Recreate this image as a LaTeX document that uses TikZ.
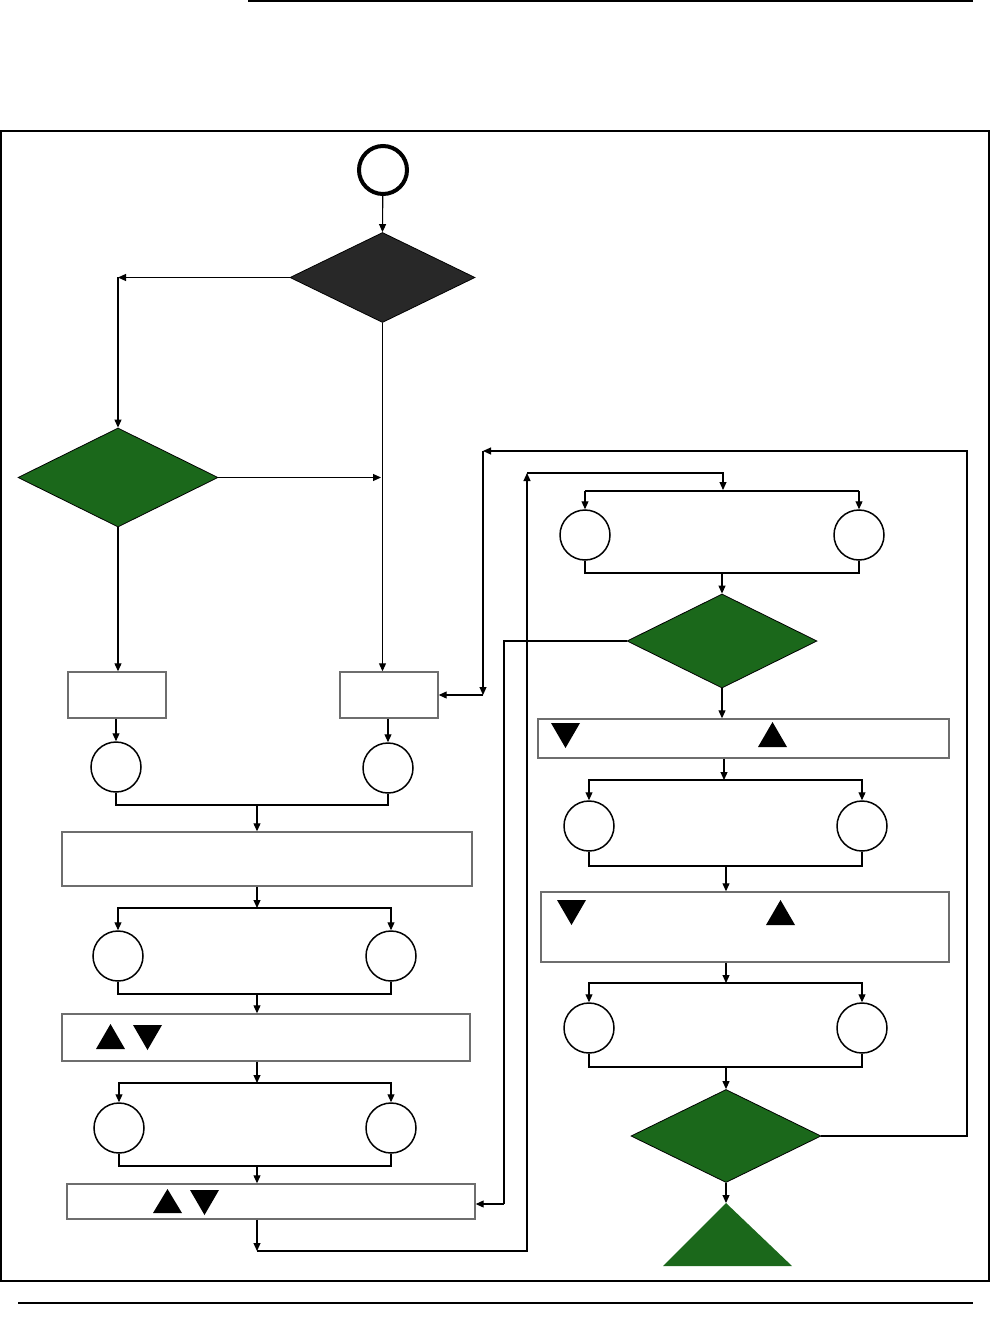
\documentclass[tikz,border=0pt]{standalone}
\usetikzlibrary{arrows.meta,shapes.geometric}
\definecolor{gfill}{RGB}{27,104,27}
\definecolor{dfill}{RGB}{40,40,40}
\definecolor{boxline}{RGB}{110,110,110}
\begin{document}
\begin{tikzpicture}[x=1pt,y=-1pt,
  conn/.style={line width=1.1pt,-{Triangle[length=8pt,width=7pt]}},
  plain/.style={line width=1.1pt},
  stepbox/.style={draw=boxline,line width=1.4pt,fill=white,rectangle,inner sep=0pt},
  ring/.style={draw=black,line width=1.5pt,circle,inner sep=0pt,minimum size=50pt,fill=white},
  choice/.style={draw=black,line width=0.8pt,diamond,inner sep=0pt,aspect=2},
  tipmark/.style={fill=black}
]
\useasboundingbox (0,0) rectangle (991,1321);
% page rules and frame
\draw[line width=1.5pt] (248,1) -- (973,1);
\draw[line width=1.5pt] (18,1303) -- (973,1303);
\draw[line width=2.5pt] (1,131) rectangle (989,1281);

% ---------- left part ----------
\node[draw=black,line width=4pt,circle,inner sep=0pt,minimum size=48pt] (s) at (383,170) {};
\node[choice,fill=dfill,minimum width=185pt,minimum height=90pt] (d0) at (382.5,277.5) {};
\node[choice,fill=gfill,minimum width=200pt,minimum height=99pt] (d1) at (118,477.5) {};
\node[stepbox,minimum width=98pt,minimum height=46pt] (b1) at (117,695) {};
\node[stepbox,minimum width=98pt,minimum height=46pt] (b2) at (389,695) {};
\node[ring] (o1) at (116,767) {};
\node[ring] (o2) at (388,768) {};
\node[stepbox,minimum width=410pt,minimum height=54pt] (w1) at (267,859) {};
\node[ring] (o3) at (118,956) {};
\node[ring] (o4) at (391,956) {};
\node[stepbox,minimum width=408pt,minimum height=47pt] (w2) at (266,1037.5) {};
\node[ring] (o5) at (119,1128) {};
\node[ring] (o6) at (391,1128) {};
\node[stepbox,minimum width=408pt,minimum height=35pt] (w3) at (271,1201.5) {};

\coordinate (c1) at (118,277.5);
\coordinate (c2) at (381,477.5);
\coordinate (m1) at (257,805);
\coordinate (br1) at (257,908);
\coordinate (m2) at (257,994);
\coordinate (br2) at (257,1083);
\coordinate (m3) at (257,1166);
\coordinate (lb) at (257,1251);
\coordinate (lc) at (527,1251);
\coordinate (lt) at (527,473);
\coordinate (rt) at (723,473);

\draw[conn] (s) -- (d0.north);
\draw[conn] (d0.west) -- (c1);
\draw[conn] (c1) -- (d1.north);
\draw[conn] (d1.east) -- (c2);
\draw[conn] (d0.south) -- (b2.north -| d0.south);
\draw[conn] (d1.south) -- (b1.north -| d1.south);
\draw[conn] (b1.south -| o1.north) -- (o1.north);
\draw[conn] (b2.south -| o2.north) -- (o2.north);
\draw[plain] (o1.south) |- (m1) -| (o2.south);
\draw[conn] (m1) -- (m1 |- w1.north);
\draw[conn] (w1.south -| br1) -- (br1);
\draw[conn] (br1) -| (o3.north);
\draw[conn] (br1) -| (o4.north);
\draw[plain] (o3.south) |- (m2) -| (o4.south);
\draw[conn] (m2) -- (m2 |- w2.north);
\draw[conn] (w2.south -| br2) -- (br2);
\draw[conn] (br2) -| (o5.north);
\draw[conn] (br2) -| (o6.north);
\draw[line width=2pt] (o5.south) |- (m3) -| (o6.south);
\draw[conn] (m3) -- (m3 |- w3.north);
\draw[conn] (w3.south -| lb) -- (lb);
\draw[conn] (lb) -- (lc) -- (lt);
\draw[conn] (lt) -- (rt) -- (723,490);

% triangles in left boxes
\fill[tipmark] (96,1049) -- (110.5,1024) -- (125,1049) -- cycle;
\fill[tipmark] (133,1025) -- (162,1025) -- (147.5,1050) -- cycle;
\fill[tipmark] (153,1213) -- (167.5,1189) -- (182,1213) -- cycle;
\fill[tipmark] (190,1190) -- (219,1190) -- (204.5,1215) -- cycle;

% ---------- right part ----------
\node[ring] (o7) at (585,535) {};
\node[ring] (o8) at (859,535) {};
\node[choice,fill=gfill,minimum width=190pt,minimum height=94pt] (d2) at (722,641) {};
\node[stepbox,minimum width=411pt,minimum height=39pt] (w4) at (743.5,738.5) {};
\node[ring] (o9) at (589,826) {};
\node[ring] (o10) at (862,826) {};
\node[stepbox,minimum width=408pt,minimum height=70pt] (w5) at (745,927) {};
\node[ring] (o11) at (589,1028) {};
\node[ring] (o12) at (862,1028) {};
\node[choice,fill=gfill,minimum width=190pt,minimum height=93pt] (d3) at (726,1136) {};
\coordinate (tri) at (726,1203);
\fill[gfill] (tri) -- (792,1266) -- (663,1266) -- cycle;

\coordinate (br3) at (723,491);
\coordinate (m4) at (722,573);
\coordinate (br4) at (724,780);
\coordinate (m5) at (726,866);
\coordinate (br5) at (726,983);
\coordinate (m6) at (726,1067);
\coordinate (fl) at (504,641);
\coordinate (fb) at (504,1204);
\coordinate (rr) at (967,1136);
\coordinate (ru) at (967,451);
\coordinate (rl) at (483,451);

\draw[plain] (br3 -| o7) -- (br3 -| o8);
\draw[conn] (br3 -| o7) -- (o7.north);
\draw[conn] (br3 -| o8) -- (o8.north);
\draw[plain] (o7.south) |- (m4) -| (o8.south);
\draw[conn] (m4) -- (d2.north);
\draw[plain] (d2.west) -- (fl) -- (fb);
\draw[conn] (fb) -- (fb -| w3.east);
\draw[conn] (d2.south) -- (d2.south |- w4.north);
\draw[conn] (w4.south -| br4) -- (br4);
\draw[conn] (br4) -| (o9.north);
\draw[conn] (br4) -| (o10.north);
\draw[line width=2pt] (o9.south) |- (m5) -| (o10.south);
\draw[conn] (m5) -- (m5 |- w5.north);
\draw[conn] (w5.south -| br5) -- (br5);
\draw[conn] (br5) -| (o11.north);
\draw[conn] (br5) -| (o12.north);
\draw[plain] (o11.south) |- (m6) -| (o12.south);
\draw[conn] (m6) -- (d3.north);
\draw[conn] (d3.south) -- (tri);
\draw[conn] (d3.east) -- (rr) -- (ru) -- (rl);
\draw[conn] (rl) -- (rl |- b2.east);
\draw[conn] (rl |- b2.east) -- (b2.east);

% triangles in right boxes
\fill[tipmark] (551,723) -- (580,723) -- (565.5,748) -- cycle;
\fill[tipmark] (758,747) -- (772.5,722) -- (787,747) -- cycle;
\fill[tipmark] (557,900) -- (586,900) -- (571.5,925) -- cycle;
\fill[tipmark] (766,925) -- (780.5,900) -- (795,925) -- cycle;
\end{tikzpicture}
\end{document}
